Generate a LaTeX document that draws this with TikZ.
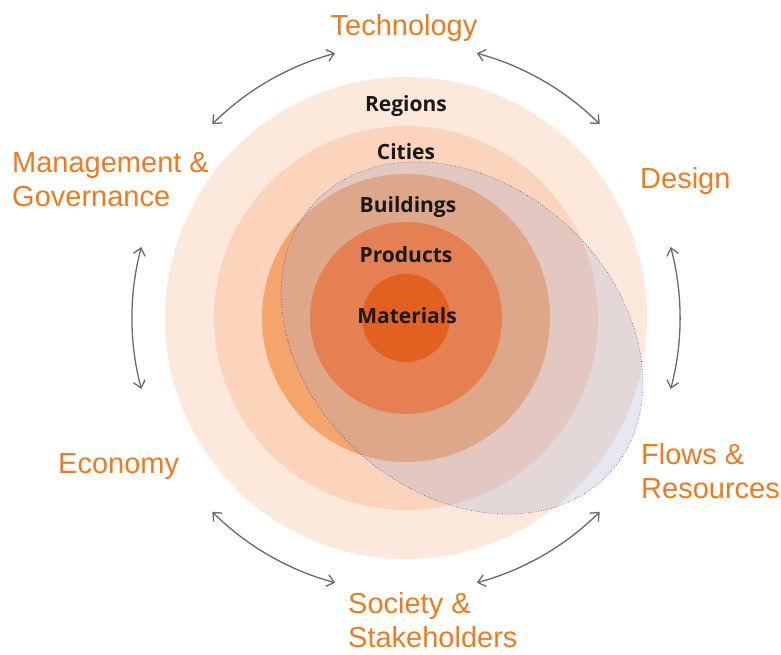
\documentclass[tikz,border=0pt]{standalone}
\usepackage{fontspec}
\usetikzlibrary{arrows.meta}
\newfontfamily\themefont{Liberation Sans}
\newfontfamily\scalefont{Open Sans}
\definecolor{themeorange}{RGB}{240,122,32}
\definecolor{arcgrey}{RGB}{105,105,105}
\definecolor{regionsfill}{RGB}{253,233,220}
\definecolor{citiesfill}{RGB}{251,212,187}
\definecolor{buildingsfill}{RGB}{245,164,107}
\definecolor{productsfill}{RGB}{228,128,82}
\definecolor{materialsfill}{RGB}{226,97,32}
\definecolor{overlapfill}{RGB}{172,174,208}
\definecolor{overlapline}{RGB}{55,60,150}

\begin{document}
\begin{tikzpicture}[x=1pt, y=-1pt,
    level/.style={font=\scalefont\bfseries\fontsize{21}{24}\selectfont, text=black!90, anchor=base, inner sep=0pt},
    theme/.style={font=\themefont\fontsize{29}{34}\selectfont, text=themeorange, align=left, anchor=base west, inner sep=0pt},
    cycle/.style={draw=arcgrey, line width=1.3pt,
        {Straight Barb[length=7pt,width=12pt]}-{Straight Barb[length=7pt,width=12pt]}}]

    \useasboundingbox (0,0) rectangle (781,655);
    \coordinate (c) at (406,318);

    % nested scales
    \fill[regionsfill] (c) circle [radius=241];
    \fill[citiesfill] (c) circle [radius=192];
    \fill[buildingsfill] (c) circle [radius=144];

    \begin{scope}[shift={(462,338)}, rotate=-42]
        \fill[overlapfill, fill opacity=0.3] (0,0) ellipse [x radius=200, y radius=154];
        \draw[overlapline, line width=0.6pt, dotted] (0,0) ellipse [x radius=200, y radius=154];
    \end{scope}

    \fill[productsfill] (c) circle [radius=96];
    \fill[materialsfill] (c) circle [radius=44];

    \node[level] (regions) at (406,112) {Regions};
    \node[level] (cities) at (406,160) {Cities};
    \node[level] (buildings) at (408,212) {Buildings};
    \node[level] (products) at (406,262) {Products};
    \node[level] (materials) at (407,323) {Materials};

    % cycle of arrows
    \foreach \a in {0,60,...,300}
    {
        \draw[cycle] (c) ++(\a-15:274) arc [start angle=\a-15, end angle=\a+15, radius=274];
    }

    % themes (base = last line)
    \node[theme, anchor=base] (technology) at (404,36) {Technology};
    \node[theme] (design) at (640,189) {Design};
    \node[theme] (management) at (12,207) {Management \&\\Governance};
    \node[theme] (economy) at (58,473) {Economy};
    \node[theme] (flows) at (641,498) {Flows \&\\Resources};
    \node[theme] (society) at (348,647) {Society \&\\Stakeholders};
\end{tikzpicture}
\end{document}
